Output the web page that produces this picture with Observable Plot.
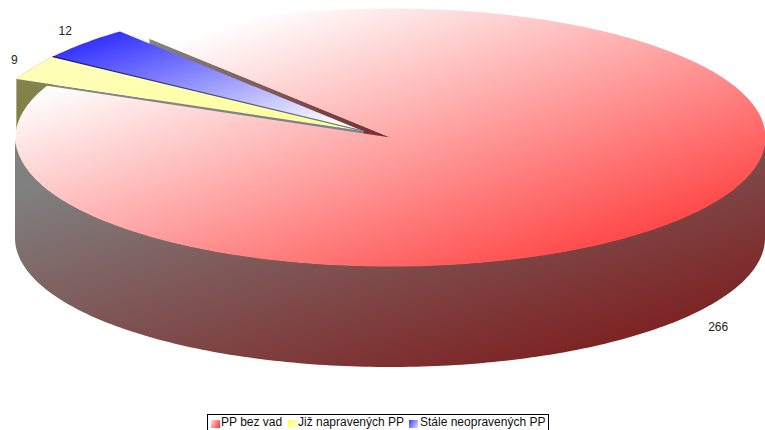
<!DOCTYPE html>
<html>
<head>
<meta charset="utf-8">
<script src="https://cdn.jsdelivr.net/npm/d3@7"></script>
<script src="https://cdn.jsdelivr.net/npm/@observablehq/plot@0.6"></script>
<style>
html,body{margin:0;padding:0;background:#fff;overflow:hidden;width:765px;height:430px}
#chart svg{display:block}
#legend{position:absolute;left:207px;top:414px;width:342px;height:18px;box-sizing:border-box;border:1px solid #000;
 font:12px "Liberation Sans",Arial,sans-serif;color:#111;white-space:nowrap;line-height:15px}
#legend span.s{position:absolute;top:5px;width:9px;height:8px}
#legend span.t{position:absolute;top:0}
</style>
</head>
<body>
<div id="chart"></div>
<div id="legend"></div>
<script>
// Data
const categories = ["PP bez vad", "Již napravených PP", "Stále neopravených PP"];
const values = [266, 9, 12];
const exploded = [false, true, true];

// Pie model: unit circle, tilted by the y scale
const startDeg = -40.0;      // compass angle where the first slice starts
const depth = 0.783;         // wall height, in y-scale units
const explodeX = -0.072, explodeY = 0.0488, explodeScale = 1.01;
const total = d3.sum(values);

let a = startDeg;
const slices = values.map((v, i) => {
  const s = a, e = a + v / total * 360;
  a = e;
  return {i, v, s, e, mid: (s + e) / 2};
});
const rad = d => d * Math.PI / 180;
const off = i => exploded[i] ? [explodeX, explodeY] : [0, 0];
const pt = (deg, i, r = 1) => {
  const [ox, oy] = off(i);
  const R = r * (exploded[i] ? explodeScale : 1);
  return {x: ox + R * Math.sin(rad(deg)), y: oy + R * Math.cos(rad(deg))};
};
const arc = (s, e, i) => d3.range(0, 1.0001, 1 / Math.max(2, Math.ceil(Math.abs(e - s)))).map(t => pt(s + (e - s) * t, i));
const drop = p => ({x: p.x, y: p.y - depth});
const topPoly = d => [pt(0, d.i, 0), ...arc(d.s, d.e, d.i)];
const radialWall = (deg, i) => {
  const c = pt(0, i, 0), p = pt(deg, i);
  return [c, p, drop(p), drop(c)];
};
const arcWall = (s, e, i) => { const A = arc(s, e, i); return [...A, ...A.map(drop).reverse()]; };

const [red, yellow, blue] = slices;
const frontRed = arc(90, 270, 0).map(p => ({x: p.x, y1: p.y, y2: p.y - depth}));

const gradients = [
  ["gRed", 0, 0, 1, 1, [[0.17, "#ffffff"], [0.95, "#ff2f2f"]]],
  ["gRedWall", 0, 0, 1, 1, [[0.12, "#808080"], [0.95, "#7d1616"]]],
  ["gWedge", 0, 0, 1, 0.4, [[0, "#858585"], [1, "#7a2f2f"]]],
  ["gYellow", 0, 0, 1, 1, [[0, "#ffffbe"], [1, "#ffff99"]]],
  ["gOlive", 0, 0, 0, 1, [[0, "#86865e"], [0.5, "#7f7f40"], [1, "#7f7f40"]]],
  ["gStrip", 0, 0, 1, 0, [[0, "#8a8a80"], [1, "#75809a"]]],
  ["gBlue", 0, 0, 1, 1, [[0.08, "#2c2cff"], [0.92, "#ffffff"]]],
  ["gNavy", 0, 0, 1, 1, [[0, "#10107a"], [1, "#808898"]]]
];
const defs = () => {
  const d = d3.create("svg:defs");
  for (const [id, x1, y1, x2, y2, stops] of gradients) {
    const g = d.append("linearGradient").attr("id", id)
      .attr("x1", x1).attr("y1", y1).attr("x2", x2).attr("y2", y2);
    for (const [o, c] of stops) g.append("stop").attr("offset", o).attr("stop-color", c);
  }
  return d.node();
};
const poly = (pts, fill) => Plot.line(pts, {x: "x", y: "y", fill, stroke: "none"});

const labelR = 1.075;
const labelDx = [5, 6, 2];
const labelDy = [6, -2, -5];
const labelMarks = slices.map(d => {
  const p = pt(d.mid, d.i, labelR);
  const y = exploded[d.i] ? p.y : p.y - depth;
  return Plot.text([{x: p.x, y, text: String(d.v)}], {x: "x", y: "y", text: "text", fontSize: 12, fill: "#222", dx: labelDx[d.i], dy: labelDy[d.i]});
});

const plot = Plot.plot({
  width: 765, height: 414, margin: 0,
  style: {background: "#fff", fontFamily: '"Liberation Sans",Arial,sans-serif'},
  x: {domain: [-1, 1], range: [15, 765], axis: null},
  y: {domain: [-1, 1], range: [266, 8], axis: null},
  marks: [
    defs,
    poly(radialWall(red.s, 0), "url(#gWedge)"),
    poly(radialWall(yellow.s, 1), "url(#gStrip)"),
    poly(arcWall(yellow.s, yellow.e, 1), "url(#gOlive)"),
    Plot.area(frontRed, {x1: "x", y1: "y1", y2: "y2", fill: "url(#gRedWall)"}),
    poly(topPoly(red), "url(#gRed)"),
    poly(topPoly(yellow), "url(#gYellow)"),
    poly(topPoly(blue), "url(#gBlue)"),
    Plot.line([pt(blue.s, 2), pt(0, 2, 0)], {x: "x", y: "y", stroke: "url(#gNavy)", strokeWidth: 1.2}),
    ...labelMarks
  ]
});
document.getElementById("chart").append(plot);

const swatchFrom = ["#ffe0e0", "#ffff50", "#3c3cff"];
const swatchTo = ["#ff2f2f", "#ffffd0", "#e0e0ff"];
const swatchX = [3, 80, 201];
const textX = [13, 90, 212];
const lg = document.getElementById("legend");
categories.forEach((c, i) => {
  const s = document.createElement("span");
  s.className = "s"; s.style.left = swatchX[i] + "px";
  s.style.background = `linear-gradient(120deg,${swatchFrom[i]},${swatchTo[i]})`;
  const t = document.createElement("span");
  t.className = "t"; t.style.left = textX[i] + "px"; t.textContent = c;
  lg.append(s, t);
});
</script>
</body>
</html>
